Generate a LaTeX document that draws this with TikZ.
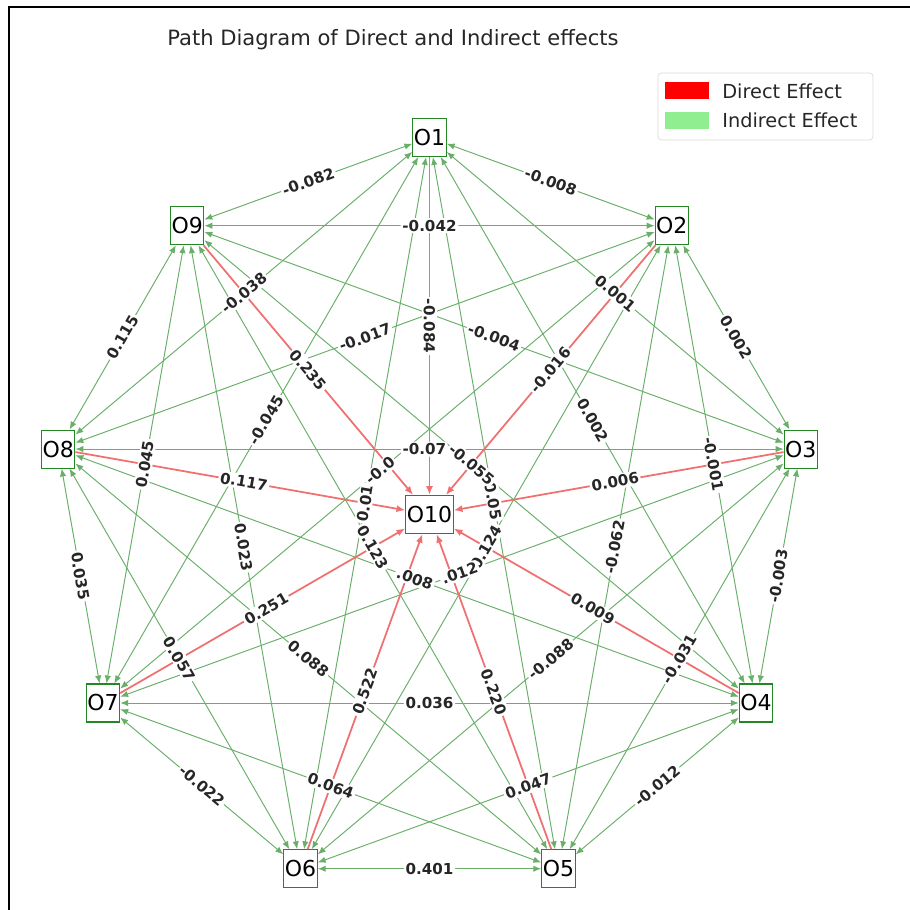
\documentclass[tikz,border=0pt]{standalone}
\usepackage{fontspec}
\setmainfont{DejaVu Sans}
\usetikzlibrary{arrows.meta}
\definecolor{indir}{RGB}{105,175,105}
\definecolor{dirred}{RGB}{240,112,112}
\definecolor{boxgreen}{RGB}{35,135,35}
\definecolor{legendgreen}{RGB}{144,238,144}
\tikzset{
  obs/.style={draw=boxgreen, line width=0.6pt, inner xsep=0.6pt, inner ysep=0pt,
    minimum height=0.76cm, font=\fontsize{12.5}{12.5}\selectfont},
  indirect/.style={draw=indir, line width=0.55pt,
    {Latex[length=4.5pt,width=3.6pt]}-{Latex[length=4.5pt,width=3.6pt]}},
  direct/.style={draw=dirred, line width=1pt, -{Latex[length=5pt,width=4pt]}},
  lbl/.style={fill=white, rounded corners=2pt, inner sep=1pt, sloped,
    text=black!85, font=\bfseries\fontsize{8.6}{8.6}\selectfont},
  patch/.style={inner sep=0pt, minimum width=0.88cm, minimum height=0.34cm},
  keytext/.style={anchor=west, inner sep=0pt, text=black!85, font=\fontsize{11}{11}\selectfont}
}

\begin{document}
\begin{tikzpicture}
\useasboundingbox (0,0) rectangle (18.2,18.2);
% frame
\draw[line width=1.1pt] (0.18,0) -- (0.18,18.06) -- (18.2,18.06);
\node[text=black!85, font=\fontsize{12}{12}\selectfont] (title) at (7.86,17.4) {Path Diagram of Direct and Indirect effects};

% nodes on the circle, O10 in the middle
\begin{scope}[shift={(8.59,7.91)}]
\node[obs] (O1) at (90:7.54) {O1};
\node[obs] (O2) at (50:7.54) {O2};
\node[obs] (O3) at (10:7.54) {O3};
\node[obs] (O4) at (-30:7.54) {O4};
\node[obs] (O5) at (-70:7.54) {O5};
\node[obs] (O6) at (-110:7.54) {O6};
\node[obs] (O7) at (-150:7.54) {O7};
\node[obs] (O8) at (170:7.54) {O8};
\node[obs] (O9) at (130:7.54) {O9};
\node[obs] (O10) at (0,0) {O10};
\end{scope}

% indirect effects
\draw[indirect] (O1) -- (O2);
\draw[indirect] (O1) -- (O3);
\draw[indirect] (O1) -- (O4);
\draw[indirect] (O1) -- (O5);
\draw[indirect] (O1) -- (O6);
\draw[indirect] (O1) -- (O7);
\draw[indirect] (O1) -- (O8);
\draw[indirect] (O1) -- (O9);
\draw[indirect] (O2) -- (O3);
\draw[indirect] (O2) -- (O4);
\draw[indirect] (O2) -- (O5);
\draw[indirect] (O2) -- (O6);
\draw[indirect] (O2) -- (O7);
\draw[indirect] (O2) -- (O8);
\draw[indirect] (O2) -- (O9);
\draw[indirect] (O3) -- (O4);
\draw[indirect] (O3) -- (O5);
\draw[indirect] (O3) -- (O6);
\draw[indirect] (O3) -- (O7);
\draw[indirect] (O3) -- (O8);
\draw[indirect] (O3) -- (O9);
\draw[indirect] (O4) -- (O5);
\draw[indirect] (O4) -- (O6);
\draw[indirect] (O4) -- (O7);
\draw[indirect] (O4) -- (O8);
\draw[indirect] (O4) -- (O9);
\draw[indirect] (O5) -- (O6);
\draw[indirect] (O5) -- (O7);
\draw[indirect] (O5) -- (O8);
\draw[indirect] (O5) -- (O9);
\draw[indirect] (O6) -- (O7);
\draw[indirect] (O6) -- (O8);
\draw[indirect] (O6) -- (O9);
\draw[indirect] (O7) -- (O8);
\draw[indirect] (O7) -- (O9);
\draw[indirect] (O8) -- (O9);

% direct effects
\draw[direct] (O1) -- (O10);
\draw[direct] (O2) -- (O10);
\draw[direct] (O3) -- (O10);
\draw[direct] (O4) -- (O10);
\draw[direct] (O5) -- (O10);
\draw[direct] (O6) -- (O10);
\draw[direct] (O7) -- (O10);
\draw[direct] (O8) -- (O10);
\draw[direct] (O9) -- (O10);

% outer ring
\path (O1.center) -- node[lbl] {-0.008} (O2.center);
\path (O2.center) -- node[lbl] {0.002} (O3.center);
\path (O3.center) -- node[lbl] {-0.003} (O4.center);
\path (O4.center) -- node[lbl] {-0.012} (O5.center);
\path (O5.center) -- node[lbl] {0.401} (O6.center);
\path (O6.center) -- node[lbl] {-0.022} (O7.center);
\path (O7.center) -- node[lbl] {0.035} (O8.center);
\path (O8.center) -- node[lbl] {0.115} (O9.center);
\path (O9.center) -- node[lbl] {-0.082} (O1.center);
% skip one
\path (O1.center) -- node[lbl] {0.001} (O3.center);
\path (O2.center) -- node[lbl] {-0.001} (O4.center);
\path (O3.center) -- node[lbl] {-0.031} (O5.center);
\path (O4.center) -- node[lbl] {0.047} (O6.center);
\path (O5.center) -- node[lbl] {0.064} (O7.center);
\path (O6.center) -- node[lbl] {0.057} (O8.center);
\path (O7.center) -- node[lbl] {0.045} (O9.center);
\path (O8.center) -- node[lbl] {-0.038} (O1.center);
\path (O9.center) -- node[lbl] {-0.042} (O2.center);
% skip two
\path (O1.center) -- node[lbl] {0.002} (O4.center);
\path (O2.center) -- node[lbl] {-0.062} (O5.center);
\path (O3.center) -- node[lbl] {-0.088} (O6.center);
\path (O4.center) -- node[lbl] {0.036} (O7.center);
\path (O5.center) -- node[lbl] {0.088} (O8.center);
\path (O6.center) -- node[lbl] {0.023} (O9.center);
\path (O7.center) -- node[lbl] {-0.045} (O1.center);
\path (O8.center) -- node[lbl] {-0.017} (O2.center);
\path (O9.center) -- node[lbl] {-0.004} (O3.center);
% labels crowding round O10
\path (O1.center) -- node[lbl,pos=0.493] {-0.05} (O5.center);
\path (O6.center) -- node[lbl] {0.124} (O2.center);
\path (O7.center) -- node[lbl,pos=0.511] {.012} (O3.center);
\path (O8.center) -- node[lbl,pos=0.511] {.008} (O4.center);
\path (O6.center) -- node[lbl] {0.01} (O1.center);
\path (O9.center) -- node[lbl] {0.123} (O5.center);
\path (O7.center) -- node[lbl,pos=0.487] {-0.0} (O2.center);
\path (O8.center) -- node[lbl,pos=0.493] {-0.07} (O3.center);
\path (O9.center) -- node[lbl] {-0.055} (O4.center);
% direct labels
\path (O1.center) -- node[lbl,allow upside down] {-0.084} (O10.center);
\path (O2.center) -- node[lbl] {-0.016} (O10.center);
\path (O3.center) -- node[lbl] {0.006} (O10.center);
\path (O4.center) -- node[lbl] {0.009} (O10.center);
\path (O5.center) -- node[lbl] {0.220} (O10.center);
\path (O6.center) -- node[lbl] {0.522} (O10.center);
\path (O7.center) -- node[lbl] {0.251} (O10.center);
\path (O8.center) -- node[lbl] {0.117} (O10.center);
\path (O9.center) -- node[lbl] {0.235} (O10.center);

% legend
\node[draw=black!15, rounded corners=2pt, minimum width=4.3cm, minimum height=1.34cm] (legend) at (15.31,16.07) {};
\node[patch, fill=red] (dpatch) at (13.74,16.38) {};
\node[patch, fill=legendgreen] (ipatch) at (13.74,15.79) {};
\node[keytext] (dtext) at (14.44,16.38) {Direct Effect};
\node[keytext] (itext) at (14.44,15.79) {Indirect Effect};
\end{tikzpicture}
\end{document}
